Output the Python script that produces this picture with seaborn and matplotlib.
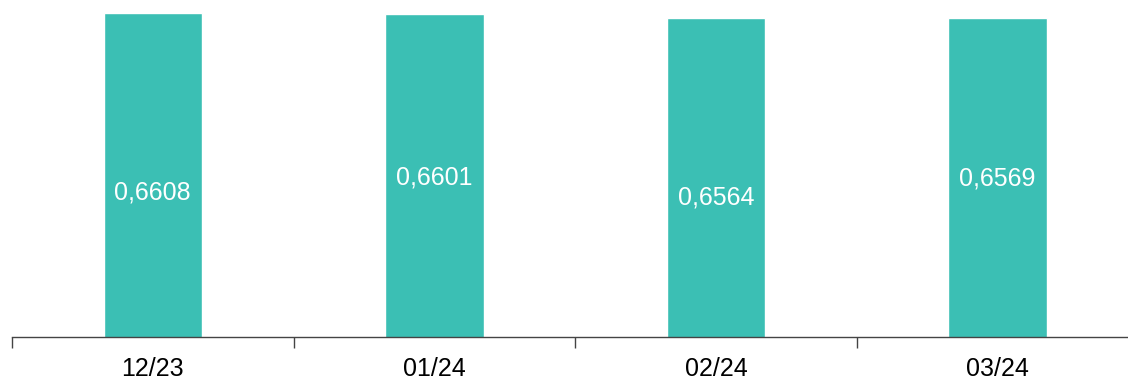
import pandas as pd
import matplotlib
matplotlib.use("Agg")
import matplotlib.pyplot as plt
import seaborn as sns

# %%
months = ["12/23", "01/24", "02/24", "03/24"]
rates = [0.6608, 0.6601, 0.6564, 0.6569]
rate_labels = ["0,6608", "0,6601", "0,6564", "0,6569"]

df = pd.DataFrame({"month": months, "rate": rates})

# %%
sns.set_theme(style="white")
plt.rcParams["font.family"] = ["Liberation Sans", "DejaVu Sans"]

fig = plt.figure(figsize=(11.28, 3.81), dpi=100)
ax = fig.add_axes([12 / 1128, 43.7 / 381, 1 - 12 / 1128, 337.3 / 381])

sns.barplot(data=df, x="month", y="rate", color="#3bbfb4", width=0.35,
            saturation=1, ax=ax)

# label heights in axes fraction, as placed in the original
label_pos = [0.428, 0.475, 0.413, 0.472]
for i, (lab, yf) in enumerate(zip(rate_labels, label_pos)):
    ax.text(i, yf, lab, transform=ax.get_xaxis_transform(), ha="center",
            va="center", color="white", fontsize=18)

ax.set_xticks([-0.5, 0.5, 1.5, 2.5, 3.5])
ax.set_xticklabels([])
ax.set_xticks(range(len(months)), minor=True)
ax.set_xticklabels(months, minor=True, fontsize=18, color="black")
ax.tick_params(axis="x", which="major", length=8, width=1, color="#444444",
               direction="out", bottom=True)
ax.tick_params(axis="x", which="minor", length=0, pad=14)
ax.set_yticks([])
ax.set(xlabel="", ylabel="")

ax.set_xlim(-0.5, 3.463)
ax.set_ylim(0.3915, 0.6716)

for s in ["top", "right", "left"]:
    ax.spines[s].set_visible(False)
ax.spines["bottom"].set_color("#444444")
ax.spines["bottom"].set_linewidth(1)

fig.savefig("out.png", dpi=100)
